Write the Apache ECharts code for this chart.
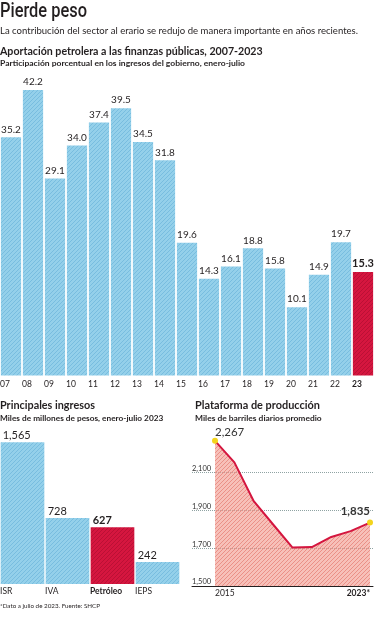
<!DOCTYPE html>
<html><head><meta charset="utf-8">
<script src="https://cdn.jsdelivr.net/npm/echarts@6/dist/echarts.min.js"></script>
<style>html,body{margin:0;padding:0;background:#fff}#c{width:374px;height:620px}</style>
</head><body><div id="c"></div><script>
// ---- data ----
const shareYears = ['07','08','09','10','11','12','13','14','15','16','17','18','19','20','21','22','23'];
const shareValues = [35.2,42.2,29.1,34.0,37.4,39.5,34.5,31.8,19.6,14.3,16.1,18.8,15.8,10.1,14.9,19.7,15.3];
const incomeCategories = ['ISR','IVA','Petróleo','IEPS'];
const incomeValues = [1565,728,627,242];
const prodYears = [2015,2016,2017,2018,2019,2020,2021,2022,2023];
const prodValues = [2267,2153,1948,1825,1703,1706,1759,1790,1835];
const prodTickLabels = [1500,1700,1900,2100];
const prodYearLabels = [2015,2023];

// ---- helpers ----
const INK = '#231f20';
function hatch(bg, stripe, n, lw) {
  const c = document.createElement('canvas');
  c.width = n; c.height = n;
  const g = c.getContext('2d');
  g.fillStyle = bg; g.fillRect(0,0,n,n);
  g.strokeStyle = stripe; g.lineWidth = lw;
  g.beginPath();
  g.moveTo(-1, n+1); g.lineTo(n+1, -1);
  g.moveTo(-1, 1); g.lineTo(1, -1);
  g.moveTo(n-1, n+1); g.lineTo(n+1, n-1);
  g.stroke();
  return {image: c, repeat: 'repeat'};
}
const blueFill = hatch('#94d0ea', '#78bddf', 4, 1);
const redFill = hatch('#d5163f', '#ba1035', 4, 1);
const pinkFill = hatch('rgba(242,150,138,0.6)', 'rgba(222,95,85,0.5)', 4, 1);

const mctx = document.createElement('canvas').getContext('2d');
function fitText(text, x, y, font, width, fill) {
  mctx.font = font;
  const w = mctx.measureText(text).width;
  return {type:'text', x:x, y:y, scaleX: width / w, silent:true,
    style:{text:text, font:font, fill: fill || INK, textVerticalAlign:'middle'}};
}
const fmt = v => v.toLocaleString('en-US');

const lastShare = shareValues.length - 1;
const lastProd = prodValues.length - 1;
const incomeHighlight = 2;

const chart = echarts.init(document.getElementById('c'), null, {renderer:'canvas'});
chart.setOption({
  animation:false,
  textStyle:{fontFamily:'Lato', color:INK},
  graphic:[
    fitText('Pierde peso', 0, 12, '500 20px Roboto', 87),
    fitText('La contribución del sector al erario se redujo de manera importante en años recientes.', 0, 31, '9.5px Lato', 358),
    fitText('Aportación petrolera a las finanzas públicas, 2007-2023', 0, 51.2, 'bold 11px Lato', 262.7),
    fitText('Participación porcentual en los ingresos del gobierno, enero-julio', 0, 63, 'bold 8px Lato', 245),
    fitText('Principales ingresos', 0, 405.7, 'bold 11px Lato', 95),
    fitText('Miles de millones de pesos, enero-julio 2023', 0, 418.2, 'bold 8px Lato', 163.3),
    fitText('Plataforma de producción', 195, 405.5, 'bold 11px Lato', 125),
    fitText('Miles de barriles diarios promedio', 195, 418.2, 'bold 8px Lato', 126.7),
    fitText('*Dato a julio de 2023. Fuente: SHCP', 0, 606, '6.5px Lato', 100)
  ],
  grid:[
    {left:0, right:0, top:71, bottom:244.5, containLabel:false, outerBoundsMode:'none'},
    {left:0, width:180, top:430, bottom:36, containLabel:false, outerBoundsMode:'none'},
    {left:192, right:1, top:434.6, bottom:34, containLabel:false, outerBoundsMode:'none'}
  ],
  xAxis:[
    {gridIndex:0, type:'category', data:shareYears, axisLine:{show:false}, axisTick:{show:false},
      axisLabel:{interval:0, hideOverlap:false, margin:4, fontSize:8.5, color:INK,
        formatter:(v,i)=> i===lastShare ? '{b|'+v+'}' : '{a|'+v+'}',
        rich:{a:{width:22, align:'left'}, b:{width:22, align:'left', fontWeight:'bold'}}}},
    {gridIndex:1, type:'category', data:incomeCategories, axisLine:{show:false}, axisTick:{show:false},
      axisLabel:{interval:0, hideOverlap:false, margin:3, fontSize:8.5, color:INK,
        formatter:(v,i)=> i===incomeHighlight ? '{b|'+v+'}' : '{a|'+v+'}',
        rich:{a:{width:45, align:'left'}, b:{width:45, align:'left', fontWeight:'bold'}}}},
    {gridIndex:2, type:'value', min:2015 - 23/19.375, max:2023 + 3/19.375,
      axisLine:{show:true, lineStyle:{color:INK, width:1}}, axisTick:{show:false}, splitLine:{show:false},
      axisLabel:{customValues:prodYearLabels, hideOverlap:false, margin:3, fontSize:8.5, color:INK,
        formatter:(v)=> v===2023 ? '{r|2023*}{rs|}' : '{ls|}{l|'+v+'}',
        rich:{l:{width:30, align:'left'}, ls:{width:30, align:'left'},
              r:{width:30, align:'right', fontWeight:'bold'}, rs:{width:30, align:'right'}}}}
  ],
  yAxis:[
    {gridIndex:0, type:'value', min:0, max:45, show:false},
    {gridIndex:1, type:'value', min:0, max:1700, show:false},
    {gridIndex:2, type:'value', min:1500, max:2300, interval:200,
      axisLine:{show:false}, axisTick:{show:false},
      axisLabel:{inside:true, margin:0, align:'left', verticalAlign:'bottom', fontSize:7.5, color:'#333',
        formatter:v => prodTickLabels.indexOf(v) >= 0 ? fmt(v) : ''},
      splitLine:{show:true, lineStyle:{type:'dotted', width:1,
        color:['rgba(0,0,0,0)','#8fa3a3','#8fa3a3','#8fa3a3','rgba(0,0,0,0)']}}}
  ],
  series:[
    {type:'bar', xAxisIndex:0, yAxisIndex:0, barCategoryGap:'8%',
      data: shareValues.map((v,i)=>({value:v,
        itemStyle:{color: i===lastShare ? redFill : blueFill},
        label: i===lastShare ? {fontWeight:'bold', fontSize:11} : {}})),
      label:{show:true, position:'top', distance:3, fontSize:10, color:INK, fontFamily:'Lato',
        formatter:p=>p.value.toFixed(1)}},
    {type:'bar', xAxisIndex:1, yAxisIndex:1, barCategoryGap:'3%',
      data: incomeValues.map((v,i)=>({value:v,
        itemStyle:{color: i===incomeHighlight ? redFill : blueFill},
        label: i===incomeHighlight ? {fontWeight:'bold'} : {}})),
      label:{show:true, position:[2,-1], align:'left', verticalAlign:'bottom', fontSize:11, color:INK, fontFamily:'Lato',
        formatter:p=>fmt(p.value)}},
    {type:'line', xAxisIndex:2, yAxisIndex:2, symbol:'circle', symbolSize:6, z:3,
      itemStyle:{color:'#f3d41c'},
      lineStyle:{color:'#d4163f', width:2},
      areaStyle:{color:pinkFill, opacity:1},
      data: prodValues.map((v,i)=>{
        const item = {value:[prodYears[i], v]};
        if (i===0) item.label = {show:true, position:'top', align:'left', distance:0, fontSize:11.5, formatter:p=>fmt(p.value[1])};
        else if (i===lastProd) item.label = {show:true, position:'top', align:'right', distance:2, fontSize:11.5, fontWeight:'bold', formatter:p=>fmt(p.value[1])};
        else item.symbol = 'none';
        return item;
      })}
  ]
});
</script></body></html>
